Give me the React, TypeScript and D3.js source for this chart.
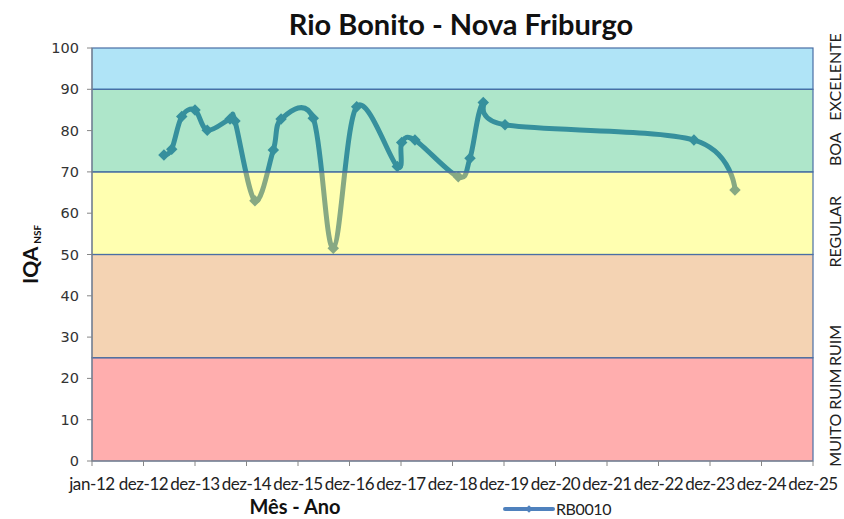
import * as d3 from "d3";
import React, { useEffect, useRef } from "react";

// IQA NSF samples, station RB0010
const sampleDates = [
  "2013-05-25", "2013-07-19", "2013-09-28", "2013-12-31", "2014-03-28",
  "2014-09-05", "2014-10-10", "2015-03-01", "2015-07-09", "2015-09-02",
  "2016-04-17", "2016-09-06", "2017-02-19", "2017-12-04", "2018-01-04",
  "2018-04-08", "2019-02-09", "2019-05-03", "2019-08-05", "2020-01-06",
  "2023-09-06", "2024-06-23",
];
const iqaValues = [
  74.1, 75.5, 83.4, 85.0, 80.1,
  82.8, 82.3, 63.0, 75.3, 82.8,
  83.0, 51.5, 85.8, 71.3, 77.1,
  77.7, 68.8, 73.3, 86.8, 81.4,
  77.7, 65.6,
];

// quality classes
const bandLimits = [0, 25, 50, 70, 90, 100];
const bandNames = ["MUITO RUIM", "RUIM", "REGULAR", "BOA", "EXCELENTE"];
const bandColors = ["#ff0202", "#dd7612", "#ffff08", "#02b159", "#08abe6"];

const yTicks = [0, 10, 20, 30, 40, 50, 60, 70, 80, 90, 100];
const xTickLabels = [
  "jan-12", "dez-12", "dez-13", "dez-14", "dez-15", "dez-16", "dez-17", "dez-18",
  "dez-19", "dez-20", "dez-21", "dez-22", "dez-23", "dez-24", "dez-25",
];

const W = 844;
const H = 519;
const DAY = 24 * 3600 * 1000;

export default function App() {
  const ref = useRef<SVGSVGElement | null>(null);

  useEffect(() => {
    if (!ref.current) return;
    const svg = d3.select(ref.current);
    svg.selectAll("*").remove();

    const margin = { top: 48, right: 31, bottom: 58, left: 92 };
    const innerW = W - margin.left - margin.right;
    const innerH = H - margin.top - margin.bottom;

    // excel date axis: one tick every 365 days from jan-12
    const start = new Date(2012, 0, 1);
    const tickDates = xTickLabels.map((_, i) => new Date(start.getTime() + i * 365 * DAY));

    const x = d3.scaleTime()
      .domain([tickDates[0], tickDates[tickDates.length - 1]])
      .range([0, innerW]);
    const y = d3.scaleLinear().domain([0, 100]).range([innerH, 0]);

    const g = svg.append("g").attr("transform", `translate(${margin.left},${margin.top})`);

    g.append("rect").attr("width", innerW).attr("height", innerH).attr("fill", "#fff");

    const data = sampleDates.map((d, i) => ({ date: d3.timeParse("%Y-%m-%d")(d) as Date, v: iqaValues[i] }));

    const lineColor = "#4f81bd";
    const line = d3.line<{ date: Date; v: number }>()
      .x(d => x(d.date))
      .y(d => y(d.v))
      .curve(d3.curveCardinal.tension(0));

    g.append("path")
      .datum(data)
      .attr("d", line)
      .attr("fill", "none")
      .attr("stroke", lineColor)
      .attr("stroke-width", 5)
      .attr("stroke-linejoin", "round");

    const diamond = d3.symbol(d3.symbolSquare, 66);
    g.selectAll(".pt")
      .data(data)
      .join("path")
      .attr("class", "pt")
      .attr("d", diamond)
      .attr("transform", d => `translate(${x(d.date)},${y(d.v)}) rotate(45)`)
      .attr("fill", lineColor);

    // semi-transparent class bands over the series
    const bands = bandNames.map((name, i) => ({ name, lo: bandLimits[i], hi: bandLimits[i + 1], color: bandColors[i] }));
    g.selectAll(".band")
      .data(bands)
      .join("rect")
      .attr("class", "band")
      .attr("x", 0)
      .attr("y", d => y(d.hi))
      .attr("width", innerW)
      .attr("height", d => y(d.lo) - y(d.hi))
      .attr("fill", d => d.color)
      .attr("fill-opacity", 0.32)
      .attr("stroke", "#4a6ea5")
      .attr("stroke-width", 1.2);

    // y axis
    g.append("line")
      .attr("x1", 0).attr("x2", 0).attr("y1", 0).attr("y2", innerH)
      .attr("stroke", "#868686");
    g.selectAll(".ytick")
      .data(yTicks)
      .join("line")
      .attr("class", "ytick")
      .attr("x1", -5).attr("x2", 0)
      .attr("y1", d => y(d)).attr("y2", d => y(d))
      .attr("stroke", "#868686");
    g.selectAll(".ylab")
      .data(yTicks)
      .join("text")
      .attr("class", "ylab")
      .attr("x", -13)
      .attr("y", d => y(d))
      .attr("dy", "0.35em")
      .attr("text-anchor", "end")
      .attr("font-family", "DejaVu Sans, sans-serif")
      .attr("font-size", 14.5)
      .attr("fill", "#333")
      .text(d => d);

    // x axis
    g.append("line")
      .attr("x1", 0).attr("x2", innerW).attr("y1", innerH).attr("y2", innerH)
      .attr("stroke", "#868686");
    g.selectAll(".xtick")
      .data(tickDates)
      .join("line")
      .attr("class", "xtick")
      .attr("x1", d => x(d)).attr("x2", d => x(d))
      .attr("y1", innerH).attr("y2", innerH + 5)
      .attr("stroke", "#868686");
    g.selectAll(".xlab")
      .data(tickDates)
      .join("text")
      .attr("class", "xlab")
      .attr("x", d => x(d))
      .attr("y", innerH + 29)
      .attr("text-anchor", "middle")
      .attr("font-family", "Lato, sans-serif")
      .attr("font-size", 17)
      .attr("letter-spacing", -0.4)
      .attr("fill", "#222")
      .text((_, i) => xTickLabels[i]);

    // class names on the right (placed like the original spaced title, not at band centres)
    const labelAt = [10.5, 28, 55.5, 75.5, 93];
    g.selectAll(".bandlab")
      .data(bands)
      .join("text")
      .attr("class", "bandlab")
      .attr("transform", (d, i) => `translate(${W - margin.left - 3},${y(labelAt[i])}) rotate(-90)`)
      .attr("text-anchor", "middle")
      .attr("font-family", "Lato, sans-serif")
      .attr("font-size", 16)
      .attr("fill", "#222")
      .text(d => d.name);

    // title
    svg.append("text")
      .attr("x", 461)
      .attr("y", 35)
      .attr("text-anchor", "middle")
      .attr("font-family", "Lato, sans-serif")
      .attr("font-weight", "bold")
      .attr("font-size", 29)
      .attr("fill", "#111")
      .text("Rio Bonito - Nova Friburgo");

    // axis titles
    svg.append("text")
      .attr("x", 295)
      .attr("y", 514)
      .attr("text-anchor", "middle")
      .attr("font-family", "Lato, sans-serif")
      .attr("font-weight", "bold")
      .attr("font-size", 20)
      .attr("fill", "#111")
      .text("Mês - Ano");

    const yt = svg.append("text")
      .attr("transform", `translate(38,${margin.top + innerH / 2}) rotate(-90)`)
      .attr("text-anchor", "middle")
      .attr("font-family", "Lato, sans-serif")
      .attr("font-weight", "bold")
      .attr("fill", "#111");
    yt.append("tspan").attr("font-size", 21).text("IQA");
    yt.append("tspan").attr("font-size", 10).attr("dx", 3).attr("dy", 3).text("NSF");

    // legend
    const lg = svg.append("g").attr("transform", "translate(505,509)");
    lg.append("line")
      .attr("x1", 0).attr("x2", 48)
      .attr("stroke", lineColor)
      .attr("stroke-width", 4)
      .attr("stroke-linecap", "round");
    lg.append("path")
      .attr("d", d3.symbol(d3.symbolSquare, 30)())
      .attr("transform", "translate(24,0) rotate(45)")
      .attr("fill", lineColor);
    lg.append("text")
      .attr("x", 51)
      .attr("y", 0)
      .attr("dy", "0.35em")
      .attr("font-family", "Lato, sans-serif")
      .attr("font-size", 16)
      .attr("letter-spacing", -0.4)
      .attr("fill", "#222")
      .text("RB0010");
  }, []);

  return (
    <svg
      ref={ref}
      width={W}
      height={H}
      style={{ position: "absolute", left: 0, top: 0, background: "#fff" }}
    />
  );
}
